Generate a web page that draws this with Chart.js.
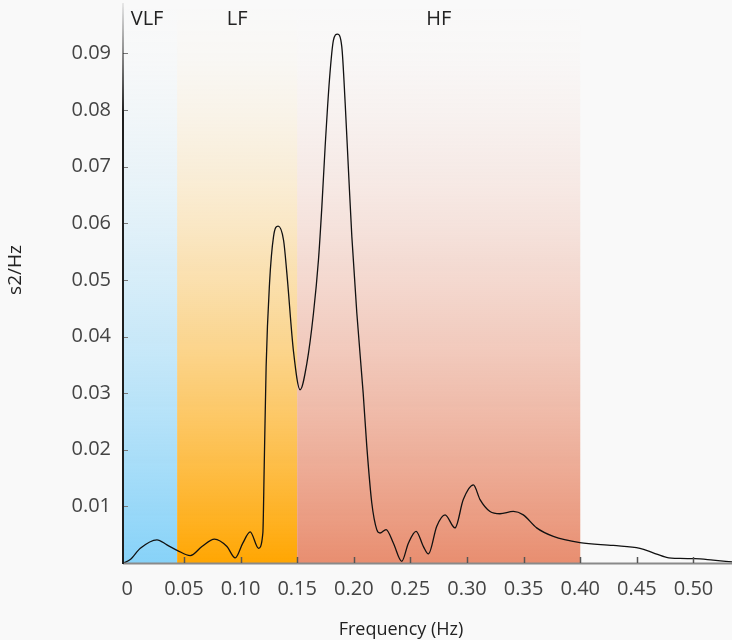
<!DOCTYPE html>
<html>
<head>
<meta charset="utf-8">
<script src="https://cdn.jsdelivr.net/npm/chart.js@4"></script>
<style>
  html, body { margin: 0; padding: 0; background: #f9f9f9; }
  #wrap { width: 732px; height: 640px; position: relative; }
</style>
</head>
<body>
<div id="wrap"><canvas id="c" width="732" height="640"></canvas></div>
<script>
// ---- data ----
const freq = [-0.0035, 0.0026, 0.0115, 0.0262, 0.035, 0.0444, 0.0556, 0.0659, 0.077, 0.088, 0.0953, 0.102, 0.1085, 0.1159, 0.1197, 0.1209, 0.1226, 0.1256, 0.1291, 0.1332, 0.138, 0.1409, 0.1468, 0.1526, 0.1586, 0.1644, 0.1688, 0.1718, 0.1747, 0.1785, 0.182, 0.1856, 0.1894, 0.1924, 0.1953, 0.1983, 0.2027, 0.2083, 0.2115, 0.2159, 0.2203, 0.2232, 0.2285, 0.235, 0.2424, 0.2482, 0.255, 0.2615, 0.2659, 0.2733, 0.2806, 0.2894, 0.2967, 0.3056, 0.3115, 0.3203, 0.3291, 0.3409, 0.3497, 0.3615, 0.3762, 0.3997, 0.4291, 0.4527, 0.4644, 0.4762, 0.488, 0.5012, 0.5173, 0.534];
const power = [0.0000, 0.0006, 0.0026, 0.0041, 0.0032, 0.0022, 0.0013, 0.0029, 0.0042, 0.0029, 0.0009, 0.0035, 0.0055, 0.0026, 0.0053, 0.0170, 0.0347, 0.0494, 0.0576, 0.0595, 0.0570, 0.0512, 0.0373, 0.0306, 0.0353, 0.0441, 0.0535, 0.0629, 0.0735, 0.0853, 0.0923, 0.0934, 0.0912, 0.0812, 0.0694, 0.0576, 0.0441, 0.0300, 0.0206, 0.0106, 0.0059, 0.0053, 0.0059, 0.0035, 0.0003, 0.0035, 0.0056, 0.0029, 0.0016, 0.0065, 0.0085, 0.0062, 0.0112, 0.0138, 0.0112, 0.0091, 0.0087, 0.0091, 0.0085, 0.0062, 0.0047, 0.0036, 0.0031, 0.0026, 0.0018, 0.0010, 0.0008, 0.00076, 0.0005, 0.0002];
const bandNames = ['VLF', 'LF', 'HF'];
const bandLo = [0, 0.044, 0.15];
const bandHi = [0.044, 0.15, 0.40];
const xTicks = [0, 0.05, 0.10, 0.15, 0.20, 0.25, 0.30, 0.35, 0.40, 0.45, 0.50];
const yTicks = [0.01, 0.02, 0.03, 0.04, 0.05, 0.06, 0.07, 0.08, 0.09];
const xTitle = 'Frequency (Hz)';
const yTitle = 's2/Hz';

// ---- styles ----
const bandRGB = ['135,210,248', '255,166,2', '232,142,112'];
const FONT = '"Open Sans", "Noto Sans", sans-serif';

const bandsPlugin = {
  id: 'bands',
  beforeDatasetsDraw(chart) {
    const { ctx, chartArea: a, scales: { x } } = chart;
    ctx.save();
    for (let i = 0; i < bandNames.length; i++) {
      let x0 = x.getPixelForValue(bandLo[i]);
      if (i === 0) x0 = a.left;
      const x1 = x.getPixelForValue(bandHi[i]);
      const g = ctx.createLinearGradient(0, a.bottom, 0, a.top);
      for (let s = 0; s <= 10; s++) {
        const f = s / 10;
        const al = Math.pow(1 - f, 1.7);
        g.addColorStop(f, 'rgba(' + bandRGB[i] + ',' + al.toFixed(3) + ')');
      }
      ctx.fillStyle = g;
      ctx.fillRect(x0, a.top, x1 - x0, a.bottom - a.top);
    }
    ctx.restore();
  },
  afterDatasetsDraw(chart) {
    const { ctx, chartArea: a, scales: { x, y } } = chart;
    ctx.save();
    // x axis line
    ctx.strokeStyle = '#8a8a8a';
    ctx.lineWidth = 2;
    ctx.beginPath();
    ctx.moveTo(a.left, a.bottom + 0.5);
    ctx.lineTo(a.right, a.bottom + 0.5);
    ctx.stroke();
    // x ticks (inward)
    ctx.strokeStyle = '#555';
    ctx.lineWidth = 1.5;
    xTicks.forEach(v => {
      if (v === 0) return;
      const px = Math.round(x.getPixelForValue(v)) + 0.5;
      ctx.beginPath();
      ctx.moveTo(px, a.bottom);
      ctx.lineTo(px, a.bottom - 6);
      ctx.stroke();
    });
    // y ticks (inward)
    ctx.strokeStyle = '#777';
    ctx.lineWidth = 1;
    yTicks.forEach(v => {
      const py = Math.round(y.getPixelForValue(v)) + 0.5;
      ctx.beginPath();
      ctx.moveTo(a.left, py);
      ctx.lineTo(a.left + 5, py);
      ctx.stroke();
    });
    // y axis line with fade at top
    const g = ctx.createLinearGradient(0, a.top, 0, a.top + 110);
    g.addColorStop(0, 'rgba(30,30,30,0.08)');
    g.addColorStop(1, 'rgba(30,30,30,1)');
    ctx.strokeStyle = g;
    ctx.lineWidth = 2;
    ctx.beginPath();
    ctx.moveTo(a.left, a.top);
    ctx.lineTo(a.left, a.bottom + 1);
    ctx.stroke();
    ctx.restore();
  },
  afterDraw(chart) {
    const { ctx, chartArea: a, scales: { x } } = chart;
    ctx.save();
    ctx.fillStyle = '#222';
    ctx.font = '20px ' + FONT;
    ctx.textAlign = 'center';
    ctx.textBaseline = 'middle';
    for (let i = 0; i < bandNames.length; i++) {
      let x0 = x.getPixelForValue(bandLo[i]);
      if (i === 0) x0 = a.left;
      const x1 = x.getPixelForValue(bandHi[i]);
      ctx.fillText(bandNames[i], (x0 + x1) / 2 - (i === 0 ? 3 : 0), 19);
    }
    // axis titles
    ctx.font = '18px ' + FONT;
    ctx.textBaseline = 'alphabetic';
    ctx.fillText(xTitle, 401, 635);
    ctx.save();
    ctx.translate(16, 270);
    ctx.rotate(-Math.PI / 2);
    ctx.font = '19px ' + FONT;
    ctx.textBaseline = 'middle';
    ctx.fillText(yTitle, 0, 0);
    ctx.restore();
    ctx.restore();
  }
};

function noPad(s) {
  s.paddingTop = 0; s.paddingBottom = 0; s.paddingLeft = 0; s.paddingRight = 0;
}

new Chart(document.getElementById('c'), {
  type: 'line',
  data: {
    datasets: [{
      data: freq.map((f, i) => ({ x: f, y: power[i] })),
      borderColor: '#111',
      borderWidth: 1.3,
      pointRadius: 0,
      fill: false,
      cubicInterpolationMode: 'monotone'
    }]
  },
  options: {
    responsive: false,
    animation: false,
    layout: { padding: { top: 3, right: 0, left: 0, bottom: 0 } },
    plugins: { legend: { display: false }, tooltip: { enabled: false } },
    scales: {
      x: {
        type: 'linear',
        min: -0.0038,
        max: 0.534,
        grid: { display: false, drawTicks: false },
        border: { display: false },
        afterBuildTicks(s) { s.ticks = xTicks.map(v => ({ value: v })); },
        afterFit(s) { s.height = 77; noPad(s); },
        ticks: {
          autoSkip: false,
          maxRotation: 0,
          padding: 14,
          color: '#444',
          font: { family: FONT, size: 20 },
          callback: v => v === 0 ? '0' : v.toFixed(2)
        }
      },
      y: {
        type: 'linear',
        min: 0,
        max: 0.0989,
        grid: { display: false, drawTicks: false },
        border: { display: false },
        afterBuildTicks(s) { s.ticks = yTicks.map(v => ({ value: v })); },
        afterFit(s) { s.width = 123; noPad(s); },
        ticks: {
          padding: 12,
          color: '#444',
          font: { family: FONT, size: 20 },
          callback: v => v.toFixed(2)
        }
      }
    }
  },
  plugins: [bandsPlugin]
});
</script>
</body>
</html>
